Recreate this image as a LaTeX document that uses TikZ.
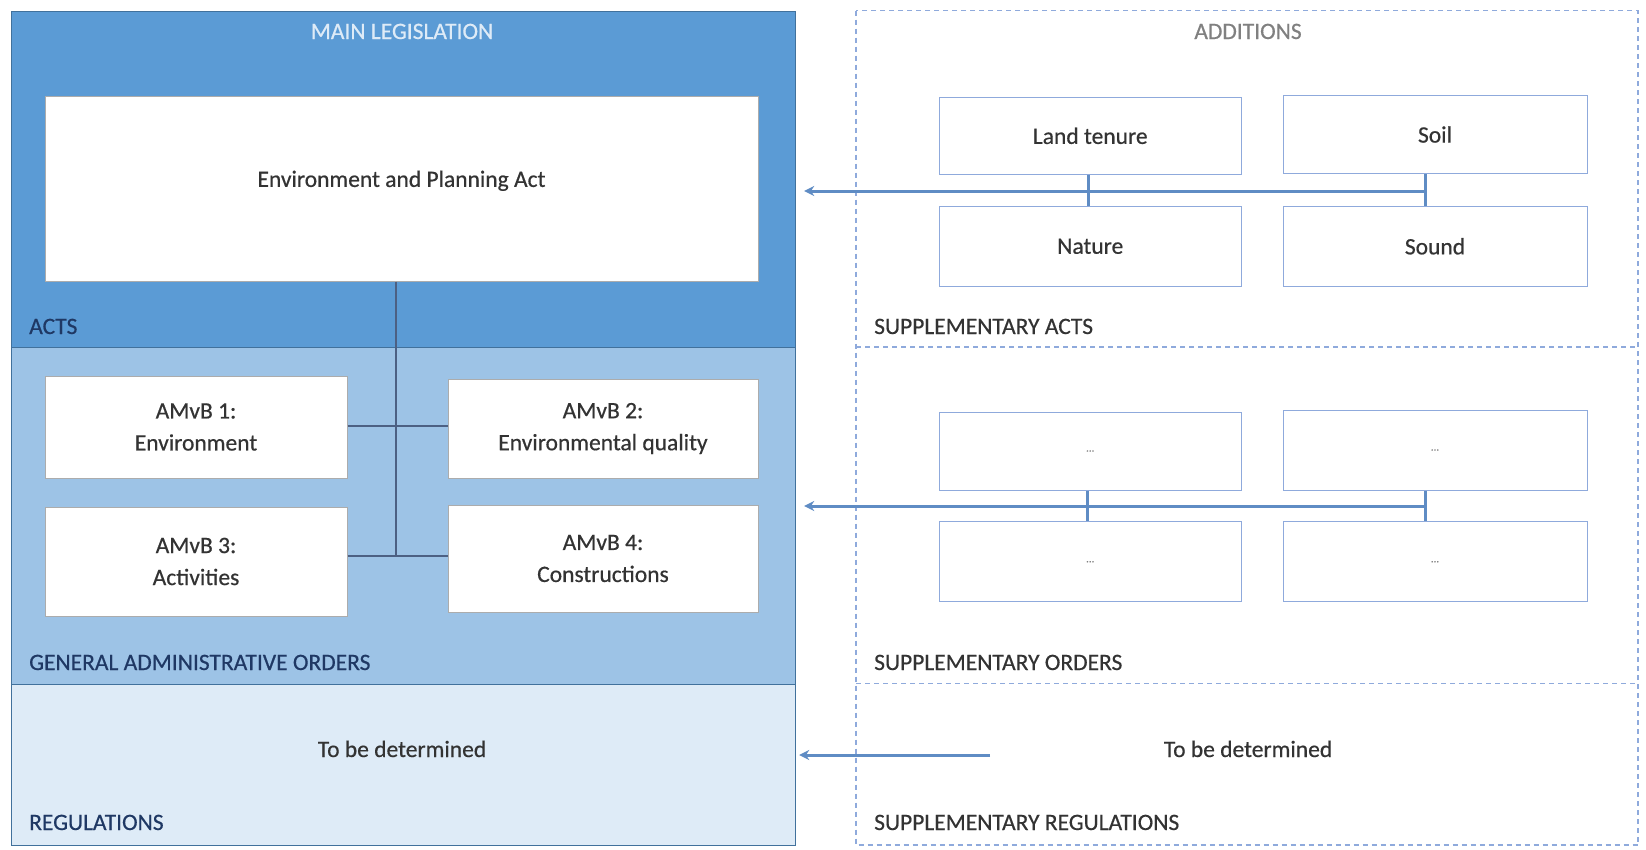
\documentclass[tikz,border=0pt]{standalone}
\usepackage{fontspec}
\setmainfont{Carlito}[FakeBold=0.5]
\usetikzlibrary{arrows.meta,calc}
\definecolor{dkblue}{HTML}{5B9BD5}
\definecolor{mdblue}{HTML}{9DC3E6}
\definecolor{ltblue}{HTML}{DEEBF7}
\definecolor{edge}{HTML}{41719C}
\definecolor{navy}{HTML}{1F3864}
\definecolor{txtgray}{HTML}{333333}
\definecolor{dashblue}{HTML}{8FAADC}
\definecolor{arrowblue}{HTML}{5F8CC4}
\newcommand{\txtfont}{\fontsize{23.5}{32}\selectfont}
\tikzset{
  panel/.style={draw=edge, line width=1.2pt, anchor=north west, inner sep=0pt},
  wbox/.style={draw=gray!65, fill=white, line width=1pt, inner sep=0pt, align=center, font=\txtfont, text=txtgray},
  rbox/.style={draw=dashblue, fill=white, line width=1pt, inner sep=0pt, align=center, font=\txtfont, text=txtgray},
  seclbl/.style={anchor=base west, inner sep=0pt, font=\txtfont, text=navy},
  rlbl/.style={anchor=base west, inner sep=0pt, font=\txtfont, text=txtgray},
  plain/.style={inner sep=0pt, font=\txtfont, text=txtgray},
  conn/.style={draw=navy!80, line width=1.2pt},
  rconn/.style={draw=arrowblue, line width=3pt},
  arr/.style={draw=arrowblue, line width=3pt, -{Stealth[length=10pt,width=10pt]}},
  dframe/.style={draw=dashblue, line width=1.5pt, dash pattern=on 5pt off 4pt}
}
\begin{document}
\begin{tikzpicture}[x=1pt,y=-1pt]
\useasboundingbox (0,0) rectangle (1646,849);
\fill[white] (0,0) rectangle (1646,849);
% left panels
\node[panel, fill=dkblue, minimum width=784.5pt, minimum height=336.5pt] (acts) at (10.5,10.5) {};
\node[panel, fill=mdblue, minimum width=784.5pt, minimum height=337pt] (orders) at (10.5,347) {};
\node[panel, fill=ltblue, minimum width=784.5pt, minimum height=161pt] (regs) at (10.5,684) {};
\node[plain, text=ltblue, anchor=base] (mainleg) at (402,39) {MAIN LEGISLATION};
\node[seclbl] (actslbl) at (29,334) {ACTS};
\node[seclbl] (gaolbl) at (29,670) {GENERAL ADMINISTRATIVE ORDERS};
\node[seclbl] (reglbl) at (29,830) {REGULATIONS};
% main boxes
\node[wbox, minimum width=713pt, minimum height=184.5pt] (env) at (401.5,188.75) {};
\node[plain] (envtxt) at ($(env.center)+(0,-8)$) {Environment and Planning Act};
\node[wbox, minimum width=302pt, minimum height=102pt] (a1) at (196,427) {AMvB 1:\\Environment};
\node[wbox, minimum width=310pt, minimum height=99pt] (a2) at (603,428.5) {AMvB 2:\\Environmental quality};
\node[wbox, minimum width=302pt, minimum height=109pt] (a3) at (196,561.5) {AMvB 3:\\Activities};
\node[wbox, minimum width=310pt, minimum height=107pt] (a4) at (603,558.5) {AMvB 4:\\Constructions};
\node[plain, anchor=base] (tbd1) at (402,757) {To be determined};
% tree connectors
\coordinate (j1) at (396,426);
\coordinate (j2) at (396,556);
\draw[conn] (env.south -| j2) -- (j2);
\draw[conn] (a1.east |- j1) -- (a2.west |- j1);
\draw[conn] (a3.east |- j2) -- (a4.west |- j2);
% right dashed frame
\draw[dframe] (856,10.5) rectangle (1638,845);
\draw[dframe] (856,347) -- (1638,347);
\draw[dframe] (856,683.5) -- (1638,683.5);
\node[plain, text=gray, anchor=base] (add) at (1248,39) {ADDITIONS};
\node[rlbl] (salbl) at (874,334) {SUPPLEMENTARY ACTS};
\node[rlbl] (solbl) at (874,670) {SUPPLEMENTARY ORDERS};
\node[rlbl] (srlbl) at (874,830) {SUPPLEMENTARY REGULATIONS};
% supplementary acts
\node[rbox, minimum width=301.5pt, minimum height=76.5pt] (lt) at (1090.25,135.8) {Land tenure};
\node[rbox, minimum width=304pt, minimum height=78pt] (so) at (1435,134.5) {Soil};
\node[rbox, minimum width=301.5pt, minimum height=80.5pt] (na) at (1090.25,246.3) {Nature};
\node[rbox, minimum width=304pt, minimum height=80.5pt] (sd) at (1435,246.3) {Sound};
\coordinate (t1) at (1088,191);
\coordinate (t2) at (1425,191);
\draw[rconn] (lt.south -| t1) -- (na.north -| t1);
\draw[rconn] (so.south -| t2) -- (sd.north -| t2);
\draw[arr] (t2) -- ($(acts.east |- t2)+(8,0)$);
% supplementary orders
\node[rbox, minimum width=301.5pt, minimum height=78pt, font=\fontsize{11}{12}\selectfont, text=gray] (o1) at (1090.25,451) {...};
\node[rbox, minimum width=304pt, minimum height=80pt, font=\fontsize{11}{12}\selectfont, text=gray] (o2) at (1435,450) {...};
\node[rbox, minimum width=301.5pt, minimum height=80pt, font=\fontsize{11}{12}\selectfont, text=gray] (o3) at (1090.25,561.7) {...};
\node[rbox, minimum width=304pt, minimum height=80pt, font=\fontsize{11}{12}\selectfont, text=gray] (o4) at (1435,561.7) {...};
\coordinate (u1) at (1087,506);
\coordinate (u2) at (1425,506);
\draw[rconn] (o1.south -| u1) -- (o3.north -| u1);
\draw[rconn] (o2.south -| u2) -- (o4.north -| u2);
\draw[arr] (u2) -- ($(orders.east |- u2)+(8,0)$);
% supplementary regulations
\node[plain, anchor=base] (tbd2) at (1248,757) {To be determined};
\coordinate (s1) at (990,755);
\draw[arr] (s1) -- ($(regs.east |- s1)+(3,0)$);
\end{tikzpicture}
\end{document}
